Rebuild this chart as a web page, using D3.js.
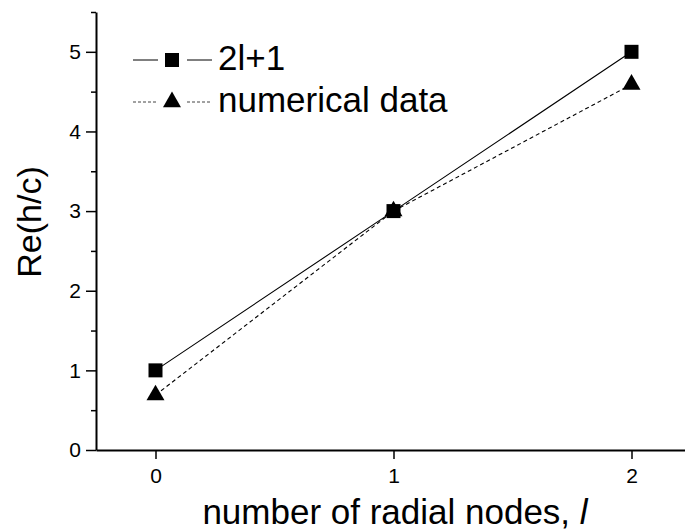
<!DOCTYPE html>
<html>
<head>
<meta charset="utf-8">
<script src="https://cdn.jsdelivr.net/npm/d3@7"></script>
<style>
  body { margin: 0; background: #fff; }
  text { font-family: "Liberation Sans", Arial, sans-serif; fill: #000; }
</style>
</head>
<body>
<div id="vizcont"></div>
<script>
// data
var nodes = [0, 1, 2];
var formulaVals = [1, 3, 5];          // 2l+1
var numericVals = [0.69, 3.0, 4.59];  // numerical data
var yTicks = [0, 1, 2, 3, 4, 5];
var yMinor = [0.5, 1.5, 2.5, 3.5, 4.5, 5.5];
var xTicks = [0, 1, 2];

var width = 685, height = 531;
var svg = d3.select("#vizcont").append("svg")
    .attr("width", width)
    .attr("height", height);

// scales
var x = d3.scaleLinear().domain([-0.25, 2.25]).range([96, 691]);
var y = d3.scaleLinear().domain([0, 5.5]).range([450, 12]);

// y axis
svg.append("g")
    .attr("transform", "translate(96,0)")
    .call(d3.axisLeft(y).tickValues(yTicks).tickFormat(d3.format("d")).tickSize(10).tickPadding(5).tickSizeOuter(0))
    .attr("font-size", 21)
    .attr("font-family", "Liberation Sans, Arial, sans-serif")
    .call(function(g) {
      g.select(".domain").attr("stroke-width", 2);
      g.selectAll(".tick line").attr("stroke-width", 1.5);
    });
svg.append("g")
    .attr("transform", "translate(96,0)")
    .call(d3.axisLeft(y).tickValues(yMinor).tickSize(5).tickFormat("").tickSizeOuter(0))
    .call(function(g) {
      g.select(".domain").remove();
      g.selectAll(".tick line").attr("stroke-width", 1.5);
    });

// x axis
svg.append("g")
    .attr("transform", "translate(0,450)")
    .call(d3.axisBottom(x).tickValues(xTicks).tickFormat(d3.format("d")).tickSize(9).tickPadding(9).tickSizeOuter(0))
    .attr("font-size", 21)
    .attr("font-family", "Liberation Sans, Arial, sans-serif")
    .call(function(g) {
      g.select(".domain").attr("stroke-width", 2);
      g.selectAll(".tick line").attr("stroke-width", 1.5);
    });

// axis titles
svg.append("text")
    .attr("transform", "translate(41,222) rotate(-90)")
    .attr("text-anchor", "middle")
    .style("font-size", "34px")
    .text("Re(h/c)");

var xt = svg.append("text")
    .attr("x", 395)
    .attr("y", 524)
    .attr("text-anchor", "middle")
    .style("font-size", "35px");
xt.append("tspan").text("number of radial nodes, ");
xt.append("tspan").style("font-style", "italic").text("l");

// lines
var line = d3.line()
    .x(function(d, i) { return x(nodes[i]); })
    .y(function(d) { return y(d); });

svg.append("path")
    .datum(formulaVals)
    .attr("d", line)
    .attr("fill", "none")
    .attr("stroke", "#000")
    .attr("stroke-width", 1.1);

svg.append("path")
    .datum(numericVals)
    .attr("d", line)
    .attr("fill", "none")
    .attr("stroke", "#000")
    .attr("stroke-width", 1.1)
    .attr("stroke-dasharray", "4,3");

var sq = d3.symbol().type(d3.symbolSquare).size(196);
var tri = d3.symbol().type(d3.symbolTriangle).size(140);

svg.selectAll("path.sq")
    .data(formulaVals)
    .enter().append("path")
    .attr("class", "sq")
    .attr("d", sq)
    .attr("transform", function(d, i) { return "translate(" + x(nodes[i]) + "," + y(d) + ")"; })
    .attr("fill", "#000");

svg.selectAll("path.tri")
    .data(numericVals)
    .enter().append("path")
    .attr("class", "tri")
    .attr("d", tri)
    .attr("transform", function(d, i) { return "translate(" + x(nodes[i]) + "," + y(d) + ")"; })
    .attr("fill", "#000");

// legend
var legend = [
  { label: "2l+1", sym: sq, dash: null, y: 60, color: "#000" },
  { label: "numerical data", sym: tri, dash: "3,2", y: 102, color: "#444" }
];
legend.forEach(function(l) {
  var g = svg.append("g");
  [[133, 158], [187, 212]].forEach(function(seg) {
    g.append("line")
      .attr("x1", seg[0]).attr("x2", seg[1])
      .attr("y1", l.y).attr("y2", l.y)
      .attr("stroke", l.color)
      .attr("stroke-width", 1)
      .attr("stroke-dasharray", l.dash);
  });
  g.append("path")
    .attr("d", l.sym)
    .attr("transform", "translate(172," + (l.y) + ")")
    .attr("fill", "#000");
  g.append("text")
    .attr("x", 218)
    .attr("y", l.y + 10)
    .style("font-size", "35px")
    .text(l.label);
});
</script>
</body>
</html>
